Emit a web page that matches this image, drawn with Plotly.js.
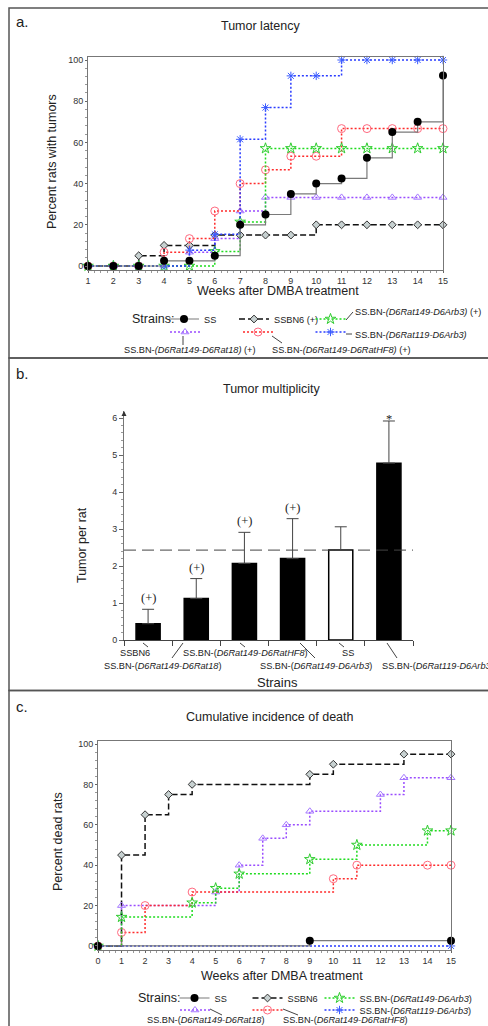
<!DOCTYPE html>
<html><head><meta charset="utf-8">
<script src="https://cdn.plot.ly/plotly-3.0.1.min.js"></script>
<style>html,body{margin:0;padding:0;background:#fff}#chart{width:488px;height:1026px}</style>
</head><body><div id="chart"></div>
<script>
// ================= DATA =================
// Panel a: Tumor latency (percent rats with tumors by week)
const weeksLatency = [1,2,3,4,5,6,7,8,9,10,11,12,13,14,15];
const latencySS      = [0,0,0,2.5,2.5,5,20,25,35,40,42.5,52.5,65,70,92.5];
const latencySSBN6   = [0,0,5,10,10,15,15,15,15,20,20,20,20,20,20];
const latencyArb3    = [0,0,0,0,0,7.1,21.4,57.1,57.1,57.1,57.1,57.1,57.1,57.1,57.1];
const latencyRat18   = [0,0,0,0,6.7,13.3,26.7,33.3,33.3,33.3,33.3,33.3,33.3,33.3,33.3];
const latencyRatHF8  = [0,0,0,6.7,13.3,26.7,40,46.7,53.3,53.3,66.7,66.7,66.7,66.7,66.7];
const latency119Arb3 = [0,0,0,0,7.7,15.4,61.5,76.9,92.3,92.3,100,100,100,100,100];
const latencyNames = ['SS','SSBN6 (+)','','','',''];

// Panel b: Tumor multiplicity
const multiplicityStrains = ['SSBN6','SS.BN-(D6Rat149-D6Rat18)','SS.BN-(D6Rat149-D6RatHF8)','SS.BN-(D6Rat149-D6Arb3)','SS','SS.BN-(D6Rat119-D6Arb3)'];
const multiplicityLabels = ['SSBN6','SS.BN-(<i>D6Rat149-D6Rat18</i>)','SS.BN-(<i>D6Rat149-D6RatHF8</i>)','SS.BN-(<i>D6Rat149-D6Arb3</i>)','SS','SS.BN-(<i>D6Rat119-D6Arb3</i>)'];
const tumorPerRat    = [0.44,1.12,2.07,2.2,2.43,4.78];
const tumorPerRatErr = [0.39,0.54,0.84,1.08,0.63,1.14];
const significance   = ['(+)','(+)','(+)','(+)','','*'];

// Panel c: Cumulative incidence of death
const deathWeeksSS    = [0,9,15];
const deathSS         = [0,2.6,2.6];
const deathWeeksSSBN6 = [0,1,2,3,4,9,10,13,15];
const deathSSBN6      = [0,45,65,75,80,85,90,95,95];
const deathWeeksArb3  = [0,1,4,5,6,9,11,14,15];
const deathArb3       = [0,14.3,21.4,28.6,35.7,42.9,50,57.1,57.1];
const deathWeeksRat18 = [0,1,5,6,7,8,9,12,13,15];
const deathRat18      = [0,20,26.7,40,53.3,60,66.7,75,83.3,83.3];
const deathWeeksHF8   = [0,1,2,4,10,11,14,15];
const deathHF8        = [0,6.7,20,26.7,33.3,40,40,40];
const deathWeeks119   = [0,15];
const death119        = [0,0];
const deathNames = ['SS','SSBN6','SS.BN-(<i>D6Rat149-D6Arb3</i>)','','','SS.BN-(<i>D6Rat119-D6Arb3</i>)'];

// ================= STYLE / LAYOUT =================
const W = 488, H = 1026;
const px = x => x / W;
const py = y => 1 - y / H;
const FONT = 'Liberation Sans, Arial, sans-serif';
const SMALL = 9.2;
const DOT = '2px,2px';

const styles = [
  {line:{color:'#7a7a7a', width:1.2, shape:'hv'}, marker:{symbol:'circle', size:8, color:'#000'}},
  {line:{color:'#111', width:1.5, dash:'6px,3px', shape:'hv'}, marker:{symbol:'diamond', size:6, color:'#c7d1d1', line:{color:'#333', width:1}}},
  {line:{color:'#1fdc1f', width:1.5, dash:DOT, shape:'hv'}, marker:{symbol:'star-open', size:8, color:'#2fcc2f', line:{color:'#2fcc2f', width:1}}},
  {line:{color:'#9a4cff', width:1.5, dash:DOT, shape:'hv'}, marker:{symbol:'triangle-up-open', size:7, color:'#a477ff', line:{color:'#a477ff', width:1}}},
  {line:{color:'#ff2b2b', width:1.5, dash:DOT, shape:'hv'}, marker:{symbol:'circle-open', size:8, color:'#ff6a80', line:{color:'#ff6a80', width:1}}},
  {line:{color:'#2a3cff', width:1.5, dash:DOT, shape:'hv'}, marker:{symbol:'asterisk-open', size:7, color:'#3b5cff', line:{color:'#3b5cff', width:1}}}
];

const latencySeries = [latencySS, latencySSBN6, latencyArb3, latencyRat18, latencyRatHF8, latency119Arb3];
const deathX = [deathWeeksSS, deathWeeksSSBN6, deathWeeksArb3, deathWeeksRat18, deathWeeksHF8, deathWeeks119];
const deathY = [deathSS, deathSSBN6, deathArb3, deathRat18, deathHF8, death119];
const drawOrder = [1,3,4,2,5,0];

const traces = [];
drawOrder.forEach(i => {
  traces.push({type:'scatter', mode:'lines+markers', x:weeksLatency, y:latencySeries[i],
    xaxis:'x', yaxis:'y', name:latencyNames[i] || ' ', cliponaxis:false,
    line:styles[i].line, marker:styles[i].marker, legend: i===0 ? 'legend' : 'legend'+(i+1)});
});
drawOrder.forEach(i => {
  traces.push({type:'scatter', mode:'lines+markers', x:deathX[i], y:deathY[i],
    xaxis:'x3', yaxis:'y3', name:deathNames[i] || ' ', cliponaxis:false,
    line:styles[i].line, marker:styles[i].marker, legend:'legend'+(i+7)});
});
const strainIdx = multiplicityStrains.map((s,i) => i);
traces.push({type:'bar', x:strainIdx, y:tumorPerRat, width:0.5, xaxis:'x2', yaxis:'y2', showlegend:false,
  marker:{color:multiplicityStrains.map(s => s==='SS' ? '#ffffff' : '#000000'), line:{color:'#000', width:1.5}},
  error_y:{type:'data', symmetric:false, array:tumorPerRatErr, arrayminus:tumorPerRatErr.map(()=>0), color:'#444', thickness:1, width:6}});

// Legends: left x of legend box (symbol centre ~ x+21), centre y
function leg(x, y, size) {
  return {x:px(x), y:py(y), xanchor:'left', yanchor:'middle', orientation:'h', bgcolor:'rgba(0,0,0,0)',
    borderwidth:0, itemwidth:30, font:{family:FONT, size:size, color:'#222'}};
}
const LA = [[164,319],[234,319],[310.5,319],[165,332],[238,332],[310.5,332]];
const LC = [[174.5,998],[247.5,998],[319.5,998],[175,1010],[247.5,1010],[319.5,1010]];
const legends = {};
LA.forEach((p,i) => { legends[i===0?'legend':'legend'+(i+1)] = leg(p[0], p[1], SMALL); });
LC.forEach((p,i) => { legends['legend'+(i+7)] = leg(p[0], p[1], SMALL); });

const axBase = {showline:true, linecolor:'#777', linewidth:1, ticks:'outside', ticklen:2, tickcolor:'#666',
  tickfont:{family:FONT, size:9, color:'#333'}, showgrid:false, zeroline:false, fixedrange:true};

const ann = [];
function txt(x, y, text, size, opts) {
  ann.push(Object.assign({xref:'paper', yref:'paper', x:px(x), y:py(y), text:text, showarrow:false,
    font:{family:FONT, size:size, color:'#222'}, xanchor:'center', yanchor:'middle'}, opts||{}));
}
// Panel labels and titles
txt(22, 22, 'a.', 15); txt(22, 373, 'b.', 15); txt(22, 706, 'c.', 15);
txt(260, 26, 'Tumor latency', 12.5);
txt(272, 389, 'Tumor multiplicity', 12.5);
txt(270, 717, 'Cumulative incidence of death', 12.5);
// Axis titles
txt(278, 291, 'Weeks after DMBA treatment', 12.5);
txt(52, 162, 'Percent rats with tumors', 12.5, {textangle:-90});
txt(82, 545, 'Tumor per rat', 12.5, {textangle:-90});
txt(277, 682, 'Strains', 13);
txt(282, 976, 'Weeks after DMBA treatment', 12.5);
txt(58, 842, 'Percent dead rats', 12.5, {textangle:-90});
// Legend headers and detached labels
txt(130, 319, 'Strains:', 12.5, {xanchor:'left'});
txt(353, 312, 'SS.BN-<i>(D6Rat149-D6Arb3)</i> (+)', SMALL, {xanchor:'left'});
txt(190, 350, 'SS.BN-<i>(D6Rat149-D6Rat18)</i> (+)', SMALL);
txt(341, 350, 'SS.BN-<i>(D6Rat149-D6RatHF8)</i> (+)', SMALL);
txt(353, 335, 'SS.BN-<i>(D6Rat119-D6Arb3)</i>', SMALL, {xanchor:'left'});
txt(136, 998, 'Strains:', 12.5, {xanchor:'left'});
txt(205, 1020, 'SS.BN-(<i>D6Rat149-D6Rat18</i>)', SMALL);
txt(345, 1020, 'SS.BN-(<i>D6Rat149-D6RatHF8</i>)', SMALL);
// Panel b category labels (last one runs off the right edge, as in the original figure)
const catPos = [[135,653],[162,666],[245,653],[316,666],[348,653],[380,666]];
multiplicityLabels.forEach((l,i) => txt(catPos[i][0], catPos[i][1], l, SMALL, i===5 ? {xanchor:'left'} : {}));
// significance marks
significance.forEach((s,i) => { if (s) ann.push({xref:'x2', yref:'y2', x:strainIdx[i], y:tumorPerRat[i]+tumorPerRatErr[i],
  text:s, showarrow:false, yanchor:'bottom', yshift: s==='*' ? -7 : 2,
  font:{family:'Liberation Serif, Times New Roman, serif', size:12.5, color:'#222'}}); });
// y-axis arrow panel b
ann.push({xref:'x2 domain', yref:'y2 domain', x:0, y:1, ax:0, ay:6, showarrow:true, arrowhead:2, arrowsize:1, arrowwidth:1, arrowcolor:'#333', text:''});

const shapes = [];
function ln(x0,y0,x1,y1,c,w) { shapes.push({type:'line', xref:'paper', yref:'paper', x0:px(x0), y0:py(y0), x1:px(x1), y1:py(y1), line:{color:c||'#444', width:w||1}}); }
// panel frames
[[8,358],[358,690.5],[690.5,1040]].forEach(p => shapes.push({type:'rect', xref:'paper', yref:'paper', x0:px(9), x1:px(500), y0:py(p[0]), y1:py(p[1]), line:{color:'#555', width:1.5}}));
// legend leaders
ln(346,320,353,312); ln(183,336,183,345); ln(272,336,282,343); ln(346,334,352,334);
ln(210,1009,222,1015); ln(283,1009,298,1015);
// panel b category leaders
[[143,643,148,647],[183,643,172,658],[240,643,245,647],[300,643,315,658],[339,643,344,647],[387,643,397,658]].forEach(l => ln(l[0],l[1],l[2],l[3]));
// SS reference line
const ssIdx = multiplicityStrains.indexOf('SS');
shapes.push({type:'line', xref:'x2 domain', x0:0, x1:1, yref:'y2', y0:tumorPerRat[ssIdx], y1:tumorPerRat[ssIdx], line:{color:'#444', width:1, dash:'12px,6px'}});

const layout = Object.assign({
  width:W, height:H, margin:{l:0,r:0,t:0,b:0}, paper_bgcolor:'#fff', plot_bgcolor:'rgba(0,0,0,0)',
  font:{family:FONT, color:'#222'}, showlegend:true, hovermode:false,
  xaxis: Object.assign({}, axBase, {domain:[px(88),px(443)], range:[1,15], anchor:'y', tickvals:weeksLatency, mirror:true, minor:{ticks:'outside', ticklen:2, dtick:0.25, tickcolor:'#999'}}),
  yaxis: Object.assign({}, axBase, {domain:[py(270),py(57)], range:[-1.94,101.46], anchor:'x', tickvals:[0,20,40,60,80,100], mirror:true, minor:{ticks:'outside', ticklen:2, dtick:4, tickcolor:'#999'}}),
  xaxis2: Object.assign({}, axBase, {domain:[px(124),px(413)], range:[-0.5,5.5], anchor:'y2', tickvals:[-0.5,0.5,1.5,2.5,3.5,4.5,5.5], showticklabels:false, ticklen:5, linecolor:'#444', tickcolor:'#444'}),
  yaxis2: Object.assign({}, axBase, {domain:[py(640),py(411)], range:[0,6.19], anchor:'x2', tickvals:[0,1,2,3,4,5,6], ticklen:4, minor:{ticks:'outside', ticklen:2, dtick:0.2, tickcolor:'#999'}}),
  xaxis3: Object.assign({}, axBase, {domain:[px(98),px(451)], range:[0,15], anchor:'y3', dtick:1, mirror:true, minor:{ticks:'outside', ticklen:2, dtick:0.25, tickcolor:'#999'}}),
  yaxis3: Object.assign({}, axBase, {domain:[py(950),py(741)], range:[-2,101.5], anchor:'x3', tickvals:[0,20,40,60,80,100], mirror:true, minor:{ticks:'outside', ticklen:2, dtick:4, tickcolor:'#999'}}),
  annotations: ann, shapes: shapes
}, legends);

Plotly.newPlot('chart', traces, layout, {staticPlot:true, displayModeBar:false});
</script></body></html>
